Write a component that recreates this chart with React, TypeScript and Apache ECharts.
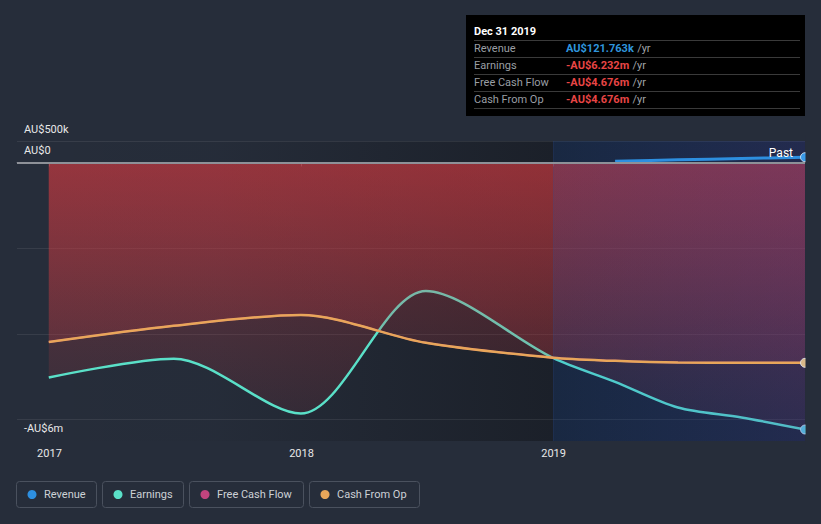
import React, { useEffect, useRef } from 'react';
import * as echarts from 'echarts';

// ---- data (values in AU$ millions) ----
const periodEnds = ['2016-12-31', '2017-06-30', '2017-12-31', '2018-06-30', '2018-12-31', '2019-03-31', '2019-06-30', '2019-09-30', '2019-12-31'];
const earnings = [-5.02, -4.58, -5.86, -3.0, -4.56, -5.12, -5.72, -5.95, -6.232];
const freeCashFlow = [-4.19, -3.81, -3.56, -4.21, -4.56, -4.63, -4.67, -4.675, -4.676];
const cashFromOp = [-4.19, -3.81, -3.56, -4.21, -4.56, -4.63, -4.67, -4.675, -4.676];
const revenuePeriods = ['2019-03-31', '2019-06-30', '2019-09-30', '2019-12-31'];
const revenue = [0.03, 0.061, 0.092, 0.121763];

const yTickValues = [0.5, 0, -6];
const yTickTexts = ['AU$500k', 'AU$0', '-AU$6m'];
const gridValues = [0.5, -2, -4, -6];
const pastStart = '2019-01-01';

const legendNames = ['Revenue', 'Earnings', 'Free Cash Flow', 'Cash From Op'];
const tooltipTitle = 'Dec 31 2019';
const tooltipLabels = ['Revenue', 'Earnings', 'Free Cash Flow', 'Cash From Op'];
const tooltipValues = ['AU$121.763k', '-AU$6.232m', '-AU$4.676m', '-AU$4.676m'];

// ---- styles ----
const BG = '#262d3a';
const FONT = 'Roboto, sans-serif';
const COLORS = { Revenue: '#2d8fe0', Earnings: '#5ae0c8', 'Free Cash Flow': '#c2447e', 'Cash From Op': '#e8a65a' } as Record<string, string>;
const X_MIN = '2016-11-15';
const X_MAX = '2019-12-31';
const Y_MIN = -6.5;
const Y_MAX = 0.5;
const SMOOTH = 0.3;

function lastDot(arr: any[], color: string, extra: any = {}) {
  return arr.map((d, i) =>
    i === arr.length - 1
      ? { value: d, symbol: 'circle', symbolSize: 9, itemStyle: { color, borderColor: 'rgba(230,240,250,0.8)', borderWidth: 1 }, ...extra }
      : { value: d }
  );
}

export default function App() {
  const ref = useRef<HTMLDivElement>(null);
  useEffect(() => {
    const chart = echarts.init(ref.current!, null, { renderer: 'svg' });

    const earnData = periodEnds.map((d, i) => [d, earnings[i]]);
    const fcfData = periodEnds.map((d, i) => [d, freeCashFlow[i]]);
    const cfoData = periodEnds.map((d, i) => [d, cashFromOp[i]]);
    const revData = revenuePeriods.map((d, i) => [d, revenue[i]]);

    const redArea = () =>
      new echarts.graphic.LinearGradient(0, 162, 0, 441, [
        { offset: 0, color: 'rgba(215,58,64,0.56)' },
        { offset: 1, color: 'rgba(205,60,68,0.1)' },
      ], true);

    const legendX = [16.5, 102.5, 189.5, 309.5];
    const legendW = [80, 81, 114, 110];
    const graphics: any[] = [];
    legendNames.forEach((n, i) => {
      graphics.push({ type: 'rect', shape: { x: legendX[i], y: 481.5, width: legendW[i], height: 26, r: 3 }, style: { fill: 'none', stroke: '#4a515e', lineWidth: 1 } });
      graphics.push({ type: 'circle', shape: { cx: legendX[i] + 15.5, cy: 494.5, r: 4.5 }, style: { fill: COLORS[n] } });
      graphics.push({ type: 'text', x: legendX[i] + 27.5, y: 494.5, style: { text: n, fill: '#cdd1d6', fontSize: 11, fontFamily: FONT, verticalAlign: 'middle' } });
    });
    // tooltip-like box
    graphics.push({ type: 'rect', shape: { x: 466, y: 15, width: 339, height: 101 }, style: { fill: '#000000' } });
    graphics.push({ type: 'text', x: 474, y: 31, style: { text: tooltipTitle, fill: '#ffffff', fontSize: 11, fontWeight: 'bold', fontFamily: FONT, verticalAlign: 'middle' } });
    [40, 57, 74, 91, 108].forEach((y) => {
      graphics.push({ type: 'line', shape: { x1: 474, y1: y + 0.5, x2: 800, y2: y + 0.5 }, style: { stroke: '#3a3a3a', lineWidth: 1 } });
    });
    tooltipLabels.forEach((l, i) => {
      const y = 48.5 + i * 17;
      graphics.push({ type: 'text', x: 474, y, style: { text: l, fill: '#9a9ea4', fontSize: 11, fontFamily: FONT, verticalAlign: 'middle' } });
      graphics.push({
        type: 'text', x: 566, y,
        style: {
          text: `{v|${tooltipValues[i]}} {u|/yr}`,
          verticalAlign: 'middle',
          rich: {
            v: { fill: i === 0 ? '#2f95dc' : '#e84545', fontSize: 11, fontWeight: 'bold', fontFamily: FONT },
            u: { fill: '#a0a4a8', fontSize: 11, fontFamily: FONT },
          },
        },
      });
    });
    // clip dots at plot's right edge
    graphics.push({ type: 'rect', shape: { x: 805.5, y: 135, width: 16, height: 310 }, style: { fill: BG }, z: 100 });

    const option: any = {
      animation: false,
      backgroundColor: BG,
      textStyle: { fontFamily: FONT },
      grid: { left: 17, right: 16, top: 141, bottom: 83, containLabel: false },
      xAxis: {
        type: 'time',
        min: X_MIN,
        max: X_MAX,
        minInterval: 365 * 24 * 3600 * 1000,
        maxInterval: 366 * 24 * 3600 * 1000,
        splitLine: { show: false },
        axisLine: { lineStyle: { color: '#5c626e', width: 1 } },
        axisTick: { show: true, length: 4, lineStyle: { color: '#5c626e' } },
        axisLabel: { color: '#e8e8e8', fontSize: 11, fontFamily: FONT, margin: 7, formatter: '{yyyy}', showMinLabel: false, showMaxLabel: false },
      },
      yAxis: {
        type: 'value',
        min: Y_MIN,
        max: Y_MAX,
        interval: 0.5,
        splitLine: { show: false },
        axisLine: { show: false },
        axisTick: { show: false },
        axisLabel: {
          inside: true,
          margin: 7,
          showMinLabel: false,
          showMaxLabel: true,
          formatter: (v: number) => {
            const idx = yTickValues.findIndex((t) => Math.abs(t - v) < 1e-6);
            if (idx < 0) return '';
            return yTickValues[idx] < -1 ? `{dn|${yTickTexts[idx]}}` : `{up|${yTickTexts[idx]}}`;
          },
          rich: {
            up: { padding: [0, 0, 24, 0], color: '#e8e8e8', fontSize: 11, fontFamily: FONT },
            dn: { padding: [18, 0, 0, 0], color: '#e8e8e8', fontSize: 11, fontFamily: FONT },
          },
        },
      },
      series: [
        {
          name: '_bg', type: 'line', data: earnData, symbol: 'none', silent: true, z: 0,
          lineStyle: { opacity: 0, width: 0 },
          markArea: {
            silent: true, z: -1,
            itemStyle: {
              color: new echarts.graphic.LinearGradient(0, 0, 1, 0, [
                { offset: 0, color: 'rgba(12,14,18,0)' },
                { offset: 0.25, color: 'rgba(12,14,18,0.03)' },
                { offset: 0.68, color: 'rgba(12,14,18,0.42)' },
                { offset: 1, color: 'rgba(12,14,18,0.42)' },
              ]),
            },
            data: [[{ xAxis: X_MIN, yAxis: Y_MAX }, { xAxis: X_MAX, yAxis: Y_MIN }]],
          },
          markLine: {
            silent: true, z: 1, symbol: 'none', label: { show: false },
            lineStyle: { color: 'rgba(255,255,255,0.08)', width: 1, type: 'solid' },
            data: gridValues.map((v) => ({ yAxis: v })),
          },
        },
        {
          name: 'Earnings', type: 'line', z: 2,
          data: lastDot(earnData, '#5ccfe0'),
          smooth: SMOOTH,
          symbol: 'none', showSymbol: true,
          lineStyle: { color: COLORS.Earnings, width: 2.5 },
          itemStyle: { color: COLORS.Earnings },
          areaStyle: { color: redArea() },
        },
        {
          name: 'Free Cash Flow', type: 'line', z: 3,
          data: fcfData,
          smooth: SMOOTH,
          symbol: 'none',
          lineStyle: { color: COLORS['Free Cash Flow'], width: 2 },
          itemStyle: { color: COLORS['Free Cash Flow'] },
          areaStyle: { color: redArea() },
        },
        {
          name: '_past', type: 'line', data: earnData, symbol: 'none', silent: true, z: 4,
          lineStyle: { opacity: 0, width: 0 },
          markArea: {
            silent: true, z: 4,
            itemStyle: {
              color: new echarts.graphic.LinearGradient(0, 0, 1, 0, [
                { offset: 0, color: 'rgba(11,96,232,0.13)' },
                { offset: 1, color: 'rgba(60,75,190,0.25)' },
              ]),
            },
            data: [[{ xAxis: pastStart, yAxis: Y_MAX }, { xAxis: X_MAX, yAxis: Y_MIN }]],
          },
          markLine: {
            silent: true, z: 4, symbol: 'none', label: { show: false },
            lineStyle: { color: 'rgba(40,80,160,0.25)', width: 1, type: 'solid' },
            data: [{ xAxis: pastStart }],
          },
        },
        {
          name: 'Cash From Op', type: 'line', z: 5,
          data: lastDot(cfoData, '#d9b98a'),
          smooth: SMOOTH,
          symbol: 'none', showSymbol: true,
          lineStyle: { color: COLORS['Cash From Op'], width: 2.5 },
          itemStyle: { color: COLORS['Cash From Op'] },
        },
        {
          name: 'Revenue', type: 'line', z: 5,
          data: lastDot(revData, '#3a9ae8', {
            label: { show: true, formatter: 'Past', position: 'left', distance: 7, offset: [0, -4], color: '#ffffff', fontSize: 12, fontFamily: FONT },
          }),
          smooth: SMOOTH,
          symbol: 'none', showSymbol: true,
          lineStyle: { color: COLORS.Revenue, width: 3 },
          itemStyle: { color: COLORS.Revenue },
          markLine: {
            silent: true, z: 6, symbol: 'none', label: { show: false },
            lineStyle: { color: '#8e9198', width: 2, type: 'solid' },
            data: [{ yAxis: 0 }],
          },
        },
      ],
      graphic: graphics,
    };

    chart.setOption(option);
    return () => chart.dispose();
  }, []);

  return <div ref={ref} style={{ position: 'fixed', left: 0, top: 0, width: 821, height: 524 }} />;
}
